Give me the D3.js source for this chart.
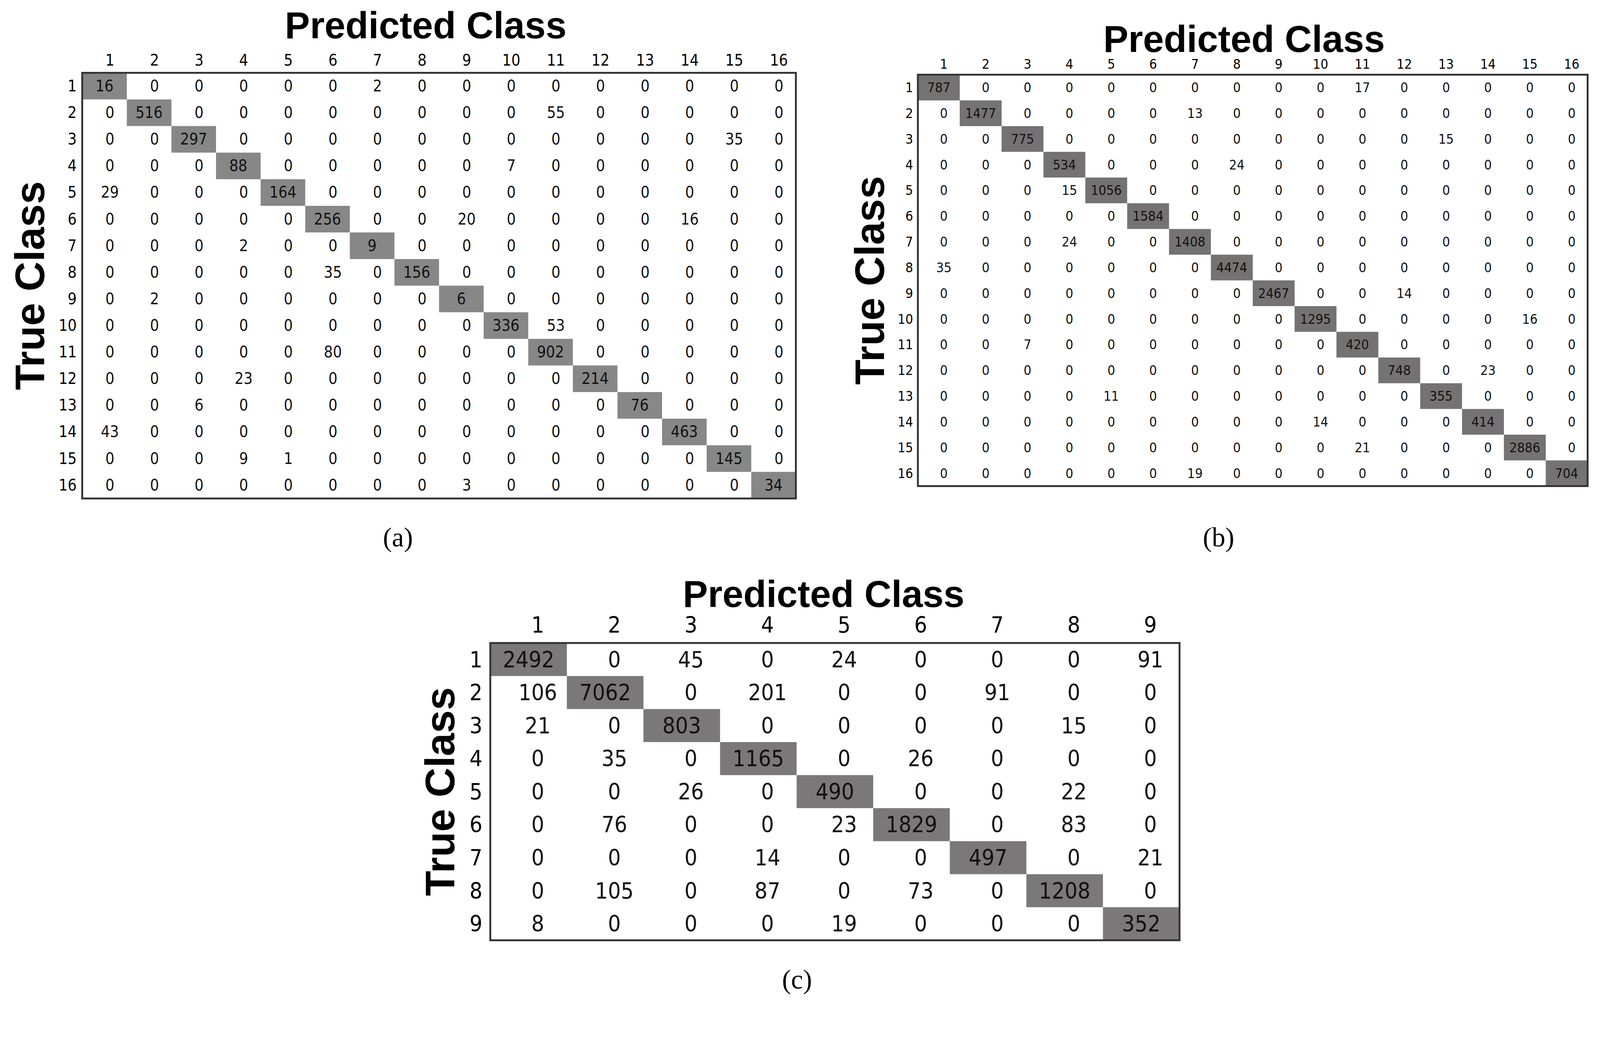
<!DOCTYPE html>
<html><head><meta charset="utf-8">
<script src="https://cdn.jsdelivr.net/npm/d3@7"></script>
<style>html,body{margin:0;padding:0;background:#fff;overflow:hidden}svg{display:block}</style>
</head><body>
<script>
var W = 4262, H = 2673;

var classesA = d3.range(1, 17);
var matrixA = [
  [16,0,0,0,0,0,2,0,0,0,0,0,0,0,0,0],
  [0,516,0,0,0,0,0,0,0,0,55,0,0,0,0,0],
  [0,0,297,0,0,0,0,0,0,0,0,0,0,0,35,0],
  [0,0,0,88,0,0,0,0,0,7,0,0,0,0,0,0],
  [29,0,0,0,164,0,0,0,0,0,0,0,0,0,0,0],
  [0,0,0,0,0,256,0,0,20,0,0,0,0,16,0,0],
  [0,0,0,2,0,0,9,0,0,0,0,0,0,0,0,0],
  [0,0,0,0,0,35,0,156,0,0,0,0,0,0,0,0],
  [0,2,0,0,0,0,0,0,6,0,0,0,0,0,0,0],
  [0,0,0,0,0,0,0,0,0,336,53,0,0,0,0,0],
  [0,0,0,0,0,80,0,0,0,0,902,0,0,0,0,0],
  [0,0,0,23,0,0,0,0,0,0,0,214,0,0,0,0],
  [0,0,6,0,0,0,0,0,0,0,0,0,76,0,0,0],
  [43,0,0,0,0,0,0,0,0,0,0,0,0,463,0,0],
  [0,0,0,9,1,0,0,0,0,0,0,0,0,0,145,0],
  [0,0,0,0,0,0,0,0,3,0,0,0,0,0,0,34]
];

var classesB = d3.range(1, 17);
var matrixB = [
  [787,0,0,0,0,0,0,0,0,0,17,0,0,0,0,0],
  [0,1477,0,0,0,0,13,0,0,0,0,0,0,0,0,0],
  [0,0,775,0,0,0,0,0,0,0,0,0,15,0,0,0],
  [0,0,0,534,0,0,0,24,0,0,0,0,0,0,0,0],
  [0,0,0,15,1056,0,0,0,0,0,0,0,0,0,0,0],
  [0,0,0,0,0,1584,0,0,0,0,0,0,0,0,0,0],
  [0,0,0,24,0,0,1408,0,0,0,0,0,0,0,0,0],
  [35,0,0,0,0,0,0,4474,0,0,0,0,0,0,0,0],
  [0,0,0,0,0,0,0,0,2467,0,0,14,0,0,0,0],
  [0,0,0,0,0,0,0,0,0,1295,0,0,0,0,16,0],
  [0,0,7,0,0,0,0,0,0,0,420,0,0,0,0,0],
  [0,0,0,0,0,0,0,0,0,0,0,748,0,23,0,0],
  [0,0,0,0,11,0,0,0,0,0,0,0,355,0,0,0],
  [0,0,0,0,0,0,0,0,0,14,0,0,0,414,0,0],
  [0,0,0,0,0,0,0,0,0,0,21,0,0,0,2886,0],
  [0,0,0,0,0,0,19,0,0,0,0,0,0,0,0,704]
];

var classesC = d3.range(1, 10);
var matrixC = [
  [2492,0,45,0,24,0,0,0,91],
  [106,7062,0,201,0,0,91,0,0],
  [21,0,803,0,0,0,0,15,0],
  [0,35,0,1165,0,26,0,0,0],
  [0,0,26,0,490,0,0,22,0],
  [0,76,0,0,23,1829,0,83,0],
  [0,0,0,14,0,0,497,0,21],
  [0,105,0,87,0,73,0,1208,0],
  [8,0,0,0,19,0,0,0,352]
];

var svg = d3.select("body").append("svg")
  .attr("viewBox", "0 0 " + W + " " + H)
  .attr("preserveAspectRatio", "xMinYMin meet")
  .style("width", "100vw").style("height", "100vh");

function drawMatrix(o) {
  var g = svg.append("g");
  var x = d3.scaleBand().domain(o.classes).range([o.x0, o.x1]);
  var y = d3.scaleBand().domain(o.classes).range([o.y0, o.y1]);
  var cells = [];
  o.data.forEach(function(row, i) {
    row.forEach(function(v, j) { cells.push({r: o.classes[i], c: o.classes[j], v: v}); });
  });
  g.selectAll("rect.diag").data(cells.filter(function(d){ return d.r === d.c; }))
    .enter().append("rect")
    .attr("x", function(d){ return x(d.c); }).attr("y", function(d){ return y(d.r); })
    .attr("width", x.bandwidth()).attr("height", y.bandwidth())
    .attr("fill", o.diagFill);
  g.append("rect").attr("x", o.x0).attr("y", o.y0)
    .attr("width", o.x1 - o.x0).attr("height", o.y1 - o.y0)
    .attr("fill", "none").attr("stroke", "#333").attr("stroke-width", 5);
  g.selectAll("text.v").data(cells).enter().append("text")
    .attr("x", function(d){ return x(d.c) + x.bandwidth() * (d.r === d.c ? 0.5 : 0.62); })
    .attr("y", function(d){ return y(d.r) + y.bandwidth() / 2; })
    .attr("text-anchor", "middle").attr("dominant-baseline", "central")
    .attr("font-family", "'DejaVu Sans Condensed', 'Liberation Sans', sans-serif")
    .attr("font-size", o.fs).attr("fill", "#111")
    .text(function(d){ return d.v; });
  g.selectAll("text.col").data(o.classes).enter().append("text")
    .attr("x", function(d){ return x(d) + x.bandwidth() * 0.62; })
    .attr("y", o.y0 - o.fs * 0.45)
    .attr("text-anchor", "middle")
    .attr("font-family", "'DejaVu Sans Condensed', sans-serif")
    .attr("font-size", o.fs).text(function(d){ return d; });
  g.selectAll("text.row").data(o.classes).enter().append("text")
    .attr("x", o.x0 - o.fs * 0.35)
    .attr("y", function(d){ return y(d) + y.bandwidth() / 2; })
    .attr("text-anchor", "end").attr("dominant-baseline", "central")
    .attr("font-family", "'DejaVu Sans Condensed', sans-serif")
    .attr("font-size", o.fs).text(function(d){ return d; });
  g.append("text").attr("x", o.titleX).attr("y", o.titleY)
    .attr("text-anchor", "middle").attr("font-family", "'Liberation Sans', Arial, sans-serif")
    .attr("font-weight", "bold").attr("font-size", o.titleFs).text("Predicted Class");
  g.append("text")
    .attr("transform", "translate(" + o.trueX + "," + ((o.y0 + o.y1) / 2) + ") rotate(-90)")
    .attr("text-anchor", "middle").attr("font-family", "'Liberation Sans', Arial, sans-serif")
    .attr("font-weight", "bold").attr("font-size", o.titleFs * 1.1).text("True Class");
  g.append("text").attr("x", o.capX).attr("y", o.capY)
    .attr("text-anchor", "middle").attr("font-family", "'Liberation Serif', serif")
    .attr("font-size", 72).text(o.cap);
}

drawMatrix({classes: classesA, data: matrixA, x0: 219, x1: 2120, y0: 194, y1: 1328,
  fs: 42, diagFill: "#878787", titleX: 1134, titleY: 102, titleFs: 100, trueX: 118,
  capX: 1060, capY: 1456, cap: "(a)"});
drawMatrix({classes: classesB, data: matrixB, x0: 2445, x1: 4229, y0: 199, y1: 1295,
  fs: 36, diagFill: "#747272", titleX: 3314, titleY: 138, titleFs: 100, trueX: 2355,
  capX: 3246, capY: 1456, cap: "(b)"});
drawMatrix({classes: classesC, data: matrixC, x0: 1306, x1: 3142, y0: 1713, y1: 2505,
  fs: 60, diagFill: "#7a7878", titleX: 2194, titleY: 1617, titleFs: 100, trueX: 1210,
  capX: 2123, capY: 2634, cap: "(c)"});
</script>
</body></html>
